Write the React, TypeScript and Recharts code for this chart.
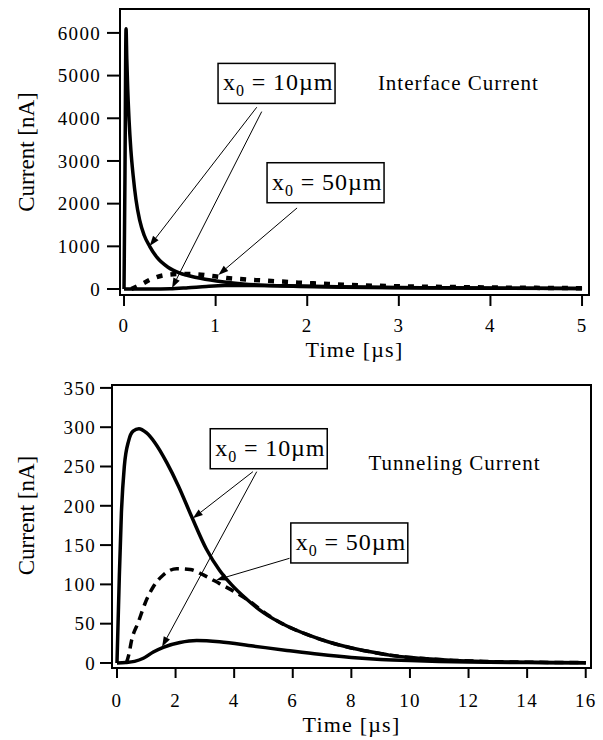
import * as React from 'react'
import {
  LineChart,
  Line,
  XAxis,
  YAxis,
  ReferenceArea,
  ReferenceLine,
  ReferenceDot,
} from 'recharts'

type Pt = [number, number]

const SERIF = '"Liberation Serif", "Times New Roman", serif'

// top panel: interface current, time [µs] vs current [nA]
const ifaceTicksX = [0, 1, 2, 3, 4, 5]
const ifaceTicksY = [0, 1000, 2000, 3000, 4000, 5000, 6000]
const ifaceDomainX = [-0.044, 5.076]
const ifaceDomainY = [-140, 6560]

const iface10Fast: Pt[] = [
  [0, 0], [0.01, 2600], [0.022, 6100], [0.03, 5400], [0.04, 4700],
  [0.055, 3950], [0.075, 3250], [0.1, 2650], [0.13, 2100], [0.17, 1620],
  [0.22, 1260], [0.28, 1000], [0.36, 740], [0.48, 510], [0.61, 370],
  [0.79, 270], [1.01, 188], [1.3, 120], [1.67, 75], [2.4, 42],
  [3, 30], [4, 19], [5, 13],
]
const iface10Slow: Pt[] = [
  [0, 0], [0.3, 0], [0.5, 5], [0.7, 30], [0.9, 60], [1.1, 80],
  [1.4, 85], [1.8, 75], [2.2, 60], [2.8, 42], [3.5, 28], [4.2, 18], [5, 12],
]
const iface50: Pt[] = [
  [0.08, 0], [0.175, 94], [0.3, 234], [0.45, 328], [0.63, 352], [0.79, 345],
  [0.96, 305], [1.12, 260], [1.27, 234], [1.43, 211], [1.61, 188], [1.76, 170],
  [1.9, 150], [2.07, 133], [2.23, 117], [2.39, 101], [2.56, 88], [3, 65],
  [3.5, 48], [4, 36], [4.5, 27], [5, 20],
]

// bottom panel: tunneling current
const tunTicksX = [0, 2, 4, 6, 8, 10, 12, 14, 16]
const tunTicksY = [0, 50, 100, 150, 200, 250, 300, 350]
const tunDomainX = [-0.17, 16.18]
const tunDomainY = [-6.4, 353.7]

const tun10Main: Pt[] = [
  [0, 0], [0.08, 110], [0.15, 190], [0.25, 250], [0.4, 283], [0.55, 295],
  [0.75, 298], [1.0, 293], [1.3, 280], [1.7, 255], [2.1, 225], [2.55, 186],
  [3.05, 145], [3.5, 118], [3.9, 100], [4.4, 82], [5.0, 64], [5.8, 47],
  [6.5, 36], [7.2, 27], [7.9, 20], [8.6, 14.5], [9.3, 10], [10, 7],
  [10.7, 5], [11.5, 3.3], [12.5, 2], [14, 1], [16, 0.4],
]
const tun10Deep: Pt[] = [
  [0, 0], [0.3, 0.5], [0.6, 2], [0.9, 6], [1.24, 14], [1.58, 20],
  [2.15, 26], [2.72, 28.5], [3.5, 27], [4.65, 21.5], [5.8, 16], [6.9, 11],
  [8, 7], [9, 4.5], [10, 3], [11, 2], [12, 1.2], [14, 0.5], [16, 0.2],
]
const tun50: Pt[] = [
  [0.32, 0], [0.4, 10], [0.5, 29], [0.73, 52], [0.96, 76], [1.24, 97],
  [1.58, 112], [2.04, 120], [2.5, 119], [2.95, 112], [3.5, 101], [4.09, 89],
  [4.55, 78], [5.0, 65], [5.8, 47], [6.5, 36], [7.2, 27], [7.9, 20],
  [8.6, 14.5], [9.3, 10], [10, 7], [10.7, 5], [11.5, 3.3], [12.5, 2],
  [14, 1], [16, 0.4],
]

// annotations, in data units
const ifaceNotes = [
  { depth: '10', at: [1.665, 4817] as Pt },
  { depth: '50', at: [2.2, 2490] as Pt },
]
const ifaceArrows: [Pt, Pt][] = [
  [[1.449, 4259], [0.28, 1010]],
  [[1.503, 4156], [0.524, 23]],
  [[1.889, 1899], [1.03, 330]],
]
const tunNotes = [
  { depth: '10', at: [5.18, 272.6] as Pt },
  { depth: '50', at: [7.93, 152.7] as Pt },
]
const tunArrows: [Pt, Pt][] = [
  [[4.64, 243.4], [2.59, 184]],
  [[4.77, 243.4], [1.54, 20.7]],
  [[5.89, 133.2], [3.39, 105.6]],
]

const toRows = (pts: Pt[]) => pts.map(([t, i]) => ({ t, i }))

const arrowShape = (props: any) => {
  const { x1, y1, x2, y2 } = props
  const a = Math.atan2(y2 - y1, x2 - x1)
  const L = 10
  const W = 3.5
  const bx = x2 - L * Math.cos(a)
  const by = y2 - L * Math.sin(a)
  const pts = `${x2},${y2} ${bx + W * Math.sin(a)},${by - W * Math.cos(a)} ${bx - W * Math.sin(a)},${by + W * Math.cos(a)}`
  return (
    <g>
      <line x1={x1} y1={y1} x2={bx} y2={by} stroke="#000" strokeWidth={1} />
      <polygon points={pts} fill="#000" />
    </g>
  )
}

const noteShape = (depth: string) => (props: any) => {
  const { cx, cy } = props
  const w = 117
  const h = 40
  return (
    <g>
      <rect x={cx - w / 2} y={cy - h / 2} width={w} height={h} fill="#fff" stroke="#000" strokeWidth={1.5} />
      <text x={cx - w / 2 + 5} y={cy + 7} fontSize={24} fontFamily={SERIF} letterSpacing={0.9} fill="#000">
        x<tspan fontSize={16} dy={6}>0</tspan><tspan dy={-6}> = {depth}µm</tspan>
      </text>
    </g>
  )
}

const captionShape = (text: string) => (props: any) => (
  <text x={props.cx} y={props.cy} textAnchor="middle" dominantBaseline="central" fontSize={21} fontFamily={SERIF} letterSpacing={1} fill="#000">
    {text}
  </text>
)

const xTitle = (baseline: number) => (props: any) => {
  const vb = props.viewBox
  return (
    <text x={vb.x + vb.width / 2} y={vb.y + baseline} textAnchor="middle" fontSize={22} fontFamily={SERIF} letterSpacing={1.2} fill="#000">
      Time [µs]
    </text>
  )
}

const yTitle = (shift: number) => (props: any) => {
  const vb = props.viewBox
  const cx = vb.x + 26
  const cy = vb.y + vb.height / 2 + shift
  return (
    <text x={cx} y={cy} transform={`rotate(-90 ${cx} ${cy})`} textAnchor="middle" dominantBaseline="central" fontSize={23} fontFamily={SERIF} fill="#000">
      Current [nA]
    </text>
  )
}

interface Series {
  pts: Pt[]
  dash?: string
  width: number
}

interface PanelProps {
  top: number
  margin: { top: number; right: number; left: number; bottom: number }
  yWidth: number
  xHeight: number
  domainX: number[]
  domainY: number[]
  ticksX: number[]
  ticksY: number[]
  series: Series[]
  notes: { depth: string; at: Pt }[]
  arrows: [Pt, Pt][]
  caption: string
  captionAt: Pt
  yTickSize: number
  yTickMargin: number
  xTickSize: number
  xTickMargin: number
  xTitleBase: number
  yTitleShift: number
}

const tickStyle = { fontSize: 19, fill: '#000', fontFamily: SERIF, letterSpacing: 1.3 }
const axisStroke = { stroke: '#000', strokeWidth: 2 }

const Panel = (p: PanelProps) => (
  <div style={{ position: 'absolute', left: 0, top: p.top }}>
    <LineChart width={603} height={370} margin={p.margin}>
      <XAxis
        dataKey="t"
        type="number"
        domain={p.domainX}
        ticks={p.ticksX}
        allowDataOverflow
        height={p.xHeight}
        tick={tickStyle}
        tickSize={p.xTickSize}
        tickMargin={p.xTickMargin}
        axisLine={axisStroke}
        tickLine={axisStroke}
        label={{ content: xTitle(p.xTitleBase) }}
      />
      <YAxis
        dataKey="i"
        type="number"
        domain={p.domainY}
        ticks={p.ticksY}
        allowDataOverflow
        width={p.yWidth}
        tick={tickStyle}
        tickSize={p.yTickSize}
        tickMargin={p.yTickMargin}
        axisLine={axisStroke}
        tickLine={axisStroke}
        label={{ content: yTitle(p.yTitleShift) }}
      />
      <ReferenceArea
        x1={p.domainX[0]}
        x2={p.domainX[1]}
        y1={p.domainY[0]}
        y2={p.domainY[1]}
        fill="none"
        fillOpacity={0}
        stroke="#000"
        strokeWidth={2}
        strokeOpacity={1}
      />
      {p.series.map((s, k) => (
        <Line
          key={k}
          data={toRows(s.pts)}
          dataKey="i"
          type="monotone"
          stroke="#000"
          strokeWidth={s.width}
          strokeDasharray={s.dash}
          dot={false}
          activeDot={false}
          isAnimationActive={false}
        />
      ))}
      {p.arrows.map(([a, b], k) => (
        <ReferenceLine
          key={'a' + k}
          segment={[{ x: a[0], y: a[1] }, { x: b[0], y: b[1] }]}
          shape={arrowShape}
        />
      ))}
      {p.notes.map((n, k) => (
        <ReferenceDot key={'n' + k} x={n.at[0]} y={n.at[1]} shape={noteShape(n.depth)} />
      ))}
      <ReferenceDot x={p.captionAt[0]} y={p.captionAt[1]} shape={captionShape(p.caption)} />
    </LineChart>
  </div>
)

export default function App() {
  return (
    <div style={{ position: 'absolute', left: 0, top: 0, width: 603, height: 740, background: '#fff' }}>
      <Panel
        top={0}
        margin={{ top: 9, right: 14, left: 0, bottom: 0 }}
        yWidth={120}
        xHeight={75}
        domainX={ifaceDomainX}
        domainY={ifaceDomainY}
        ticksX={ifaceTicksX}
        ticksY={ifaceTicksY}
        series={[
          { pts: iface10Slow, width: 3.5 },
          { pts: iface50, width: 4.5, dash: '6 8' },
          { pts: iface10Fast, width: 3.5 },
        ]}
        notes={ifaceNotes}
        arrows={ifaceArrows}
        caption="Interface Current"
        captionAt={[3.65, 4817]}
        yTickSize={13}
        yTickMargin={6}
        xTickSize={11}
        xTickMargin={13}
        xTitleBase={62}
        yTitleShift={0}
      />
      <Panel
        top={370}
        margin={{ top: 15, right: 12, left: 0, bottom: 0 }}
        yWidth={112}
        xHeight={72}
        domainX={tunDomainX}
        domainY={tunDomainY}
        ticksX={tunTicksX}
        ticksY={tunTicksY}
        series={[
          { pts: tun10Deep, width: 3.5 },
          { pts: tun50, width: 3.5, dash: '9 6' },
          { pts: tun10Main, width: 3.5 },
        ]}
        notes={tunNotes}
        arrows={tunArrows}
        caption="Tunneling Current"
        captionAt={[11.52, 254.5]}
        yTickSize={12}
        yTickMargin={4}
        xTickSize={10}
        xTickMargin={16}
        xTitleBase={64}
        yTitleShift={-11}
      />
    </div>
  )
}
